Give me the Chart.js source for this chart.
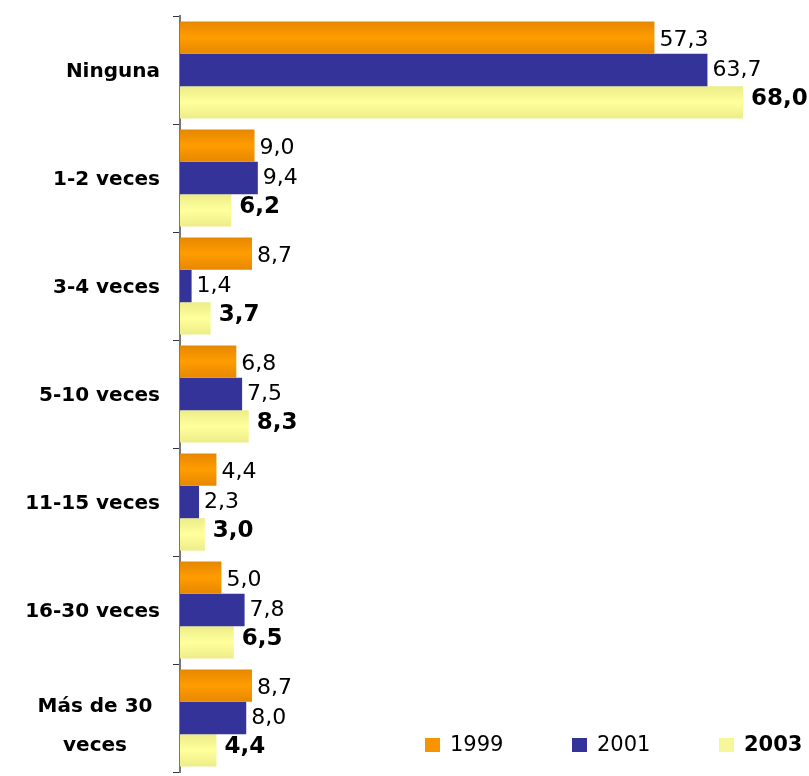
<!DOCTYPE html>
<html>
<head>
<meta charset="utf-8">
<title>Frecuencia</title>
<script src="https://cdn.jsdelivr.net/npm/chart.js@4.4.1/dist/chart.umd.min.js"></script>
<style>
  html, body { margin: 0; padding: 0; background: #fff; }
  #wrap { width: 809px; height: 776px; position: relative; }
</style>
</head>
<body>
<div id="wrap"><canvas id="barChart"></canvas></div>
<script>
// Categories and values per year
const categories = ['Ninguna', '1-2 veces', '3-4 veces', '5-10 veces', '11-15 veces', '16-30 veces', ['Más de 30', 'veces']];
const years = ['1999', '2001', '2003'];
const values1999 = [57.3, 9.0, 8.7, 6.8, 4.4, 5.0, 8.7];
const values2001 = [63.7, 9.4, 1.4, 7.5, 2.3, 7.8, 8.0];
const values2003 = [68.0, 6.2, 3.7, 8.3, 3.0, 6.5, 4.4];

const labelFont = '"Comic Sans MS", "DejaVu Sans", sans-serif';
const valueFont = '"DejaVu Sans", Verdana, sans-serif';

// colour stops for the shaded bars: [edge, middle]
const shades = [
    ['#e68800', '#ff9c00'],
    ['#333399', '#333399'],
    ['#ecec88', '#ffff9c']
];
const flat = ['#f79400', '#333399', '#f7f79a'];

// vertical gradient for each bar, worked out from the category scale
function barFill(ctx) {
    const chart = ctx.chart;
    const y = chart.scales.y;
    if (!chart.chartArea || !y || ctx.type !== 'data') return flat[ctx.datasetIndex];
    const band = (y.bottom - y.top) / categories.length;
    const t = band * 0.9 / 3;
    const c = y.getPixelForValue(ctx.dataIndex);
    const top = c - 1.5 * t + ctx.datasetIndex * t;
    const g = chart.ctx.createLinearGradient(0, top, 0, top + t);
    const s = shades[ctx.datasetIndex];
    g.addColorStop(0, s[0]);
    g.addColorStop(0.5, s[1]);
    g.addColorStop(1, s[0]);
    return g;
}

// category names on the left, single lines right aligned, two lines centred
const categoryLabels = {
    id: 'categoryLabels',
    afterDraw(chart) {
        const ctx = chart.ctx;
        const y = chart.scales.y;
        ctx.save();
        ctx.fillStyle = '#000';
        ctx.font = 'bold 20px ' + labelFont;
        ctx.textBaseline = 'middle';
        categories.forEach((c, i) => {
            const cy = y.getPixelForValue(i);
            if (Array.isArray(c)) {
                ctx.textAlign = 'center';
                ctx.fillText(c[0], 95, cy - 11);
                ctx.fillText(c[1], 95, cy + 28);
            } else {
                ctx.textAlign = 'right';
                ctx.fillText(c, 160, cy + 2);
            }
        });
        ctx.restore();
    }
};

// value labels at the end of every bar
const valueLabels = {
    id: 'valueLabels',
    afterDatasetsDraw(chart) {
        const ctx = chart.ctx;
        ctx.save();
        ctx.fillStyle = '#000';
        ctx.textAlign = 'left';
        ctx.textBaseline = 'middle';
        chart.data.datasets.forEach((ds, di) => {
            const meta = chart.getDatasetMeta(di);
            const bold = di === 2;
            ctx.font = (bold ? 'bold 23px ' : '22px ') + valueFont;
            meta.data.forEach((bar, i) => {
                const txt = ds.data[i].toFixed(1).replace('.', ',');
                const dy = di === 0 ? 3 : (di === 2 ? -3 : 0);
                ctx.fillText(txt, bar.x + (bold ? 8 : 5), bar.y + dy);
            });
        });
        ctx.restore();
    }
};

// legend in the lower right corner
const cornerLegend = {
    id: 'cornerLegend',
    afterDraw(chart) {
        const ctx = chart.ctx;
        const xs = [425, 572, 719];
        ctx.save();
        ctx.textBaseline = 'middle';
        ctx.textAlign = 'left';
        years.forEach((yr, i) => {
            ctx.fillStyle = flat[i];
            ctx.fillRect(xs[i], 738, 15, 14);
            ctx.fillStyle = '#000';
            ctx.font = (i === 2 ? 'bold 21px ' : '21px ') + valueFont;
            ctx.fillText(yr, xs[i] + 25, 746);
        });
        ctx.restore();
    }
};

new Chart(document.getElementById('barChart'), {
    type: 'bar',
    data: {
        labels: categories,
        datasets: [
            { label: years[0], data: values1999, backgroundColor: barFill },
            { label: years[1], data: values2001, backgroundColor: barFill },
            { label: years[2], data: values2003, backgroundColor: barFill }
        ]
    },
    options: {
        indexAxis: 'y',
        responsive: true,
        maintainAspectRatio: false,
        animation: false,
        categoryPercentage: 0.9,
        barPercentage: 1.0,
        layout: { padding: { top: 16, bottom: 4, left: 0, right: 8 } },
        scales: {
            x: {
                display: false,
                min: 0,
                max: 75
            },
            y: {
                ticks: { display: false },
                grid: {
                    display: true,
                    drawOnChartArea: false,
                    drawTicks: true,
                    tickLength: 7,
                    color: '#333',
                    lineWidth: 1
                },
                border: { display: true, color: '#777', width: 2 },
                afterFit(scale) { scale.width = 180; }
            }
        },
        plugins: {
            legend: { display: false },
            tooltip: { enabled: false }
        }
    },
    plugins: [categoryLabels, valueLabels, cornerLegend]
});
</script>
</body>
</html>
